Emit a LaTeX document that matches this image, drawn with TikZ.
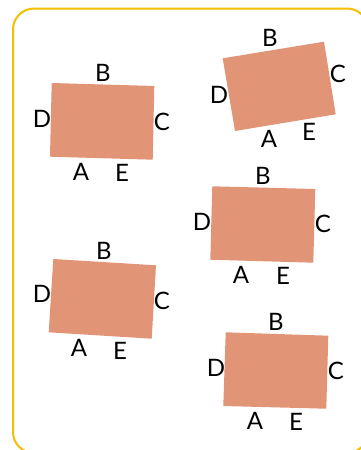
\documentclass[tikz,border=0pt]{standalone}
\usepackage{fontspec}
\setmainfont{Lato}
\usepackage{xcolor}
\usetikzlibrary{positioning}
\definecolor{plateclr}{RGB}{225,148,118}
\definecolor{frameclr}{RGB}{245,190,0}

\begin{document}
\begin{tikzpicture}[x=1pt,y=-1pt]
    \tikzset{
        frame/.style={draw=frameclr, line width=2pt, rounded corners=21pt},
        plate/.style={fill=plateclr},
        lbl/.style={font=\fontsize{24}{24}\selectfont, inner sep=0pt, text=black},
    }
    \useasboundingbox (0,0) rectangle (361,450);
    \draw[frame] (13,8.5) rectangle (368,453);

    % top left
    \fill[plate] (51.7,83) -- (154.3,86) -- (152.7,159.7) -- (50,156.7) -- cycle;
    \node[lbl] (b1) at (103,73) {B};
    \node[lbl] (d1) at (42,119) {D};
    \node[lbl] (c1) at (162,122) {C};
    \node[lbl] (a1) at (81,172) {A};
    \node[lbl] (e1) at (122,173) {E};

    % top right
    \fill[plate] (222.7,58.3) -- (324,41.7) -- (335.7,114.3) -- (235,131) -- cycle;
    \node[lbl] (b2) at (270,38) {B};
    \node[lbl] (d2) at (219,95) {D};
    \node[lbl] (c2) at (338,74) {C};
    \node[lbl] (a2) at (269,139) {A};
    \node[lbl] (e2) at (309,132) {E};

    % middle right
    \fill[plate] (212.3,186.3) -- (315.3,189) -- (313.3,262.7) -- (210.3,259.7) -- cycle;
    \node[lbl] (b3) at (263,176) {B};
    \node[lbl] (d3) at (202,222) {D};
    \node[lbl] (c3) at (323,224) {C};
    \node[lbl] (a3) at (241,275) {A};
    \node[lbl] (e3) at (283,276) {E};

    % bottom left
    \fill[plate] (53.3,259) -- (156,265.3) -- (151.7,338.7) -- (48.7,332.3) -- cycle;
    \node[lbl] (b4) at (104,251) {B};
    \node[lbl] (d4) at (42,294) {D};
    \node[lbl] (c4) at (162,301) {C};
    \node[lbl] (a4) at (79,348) {A};
    \node[lbl] (e4) at (120,351) {E};

    % bottom right
    \fill[plate] (225.7,332.3) -- (328.3,335.7) -- (326.3,408.7) -- (223.3,406) -- cycle;
    \node[lbl] (b5) at (276,322) {B};
    \node[lbl] (d5) at (216,368) {D};
    \node[lbl] (c5) at (336,371) {C};
    \node[lbl] (a5) at (255,421) {A};
    \node[lbl] (e5) at (296,422) {E};
\end{tikzpicture}
\end{document}
